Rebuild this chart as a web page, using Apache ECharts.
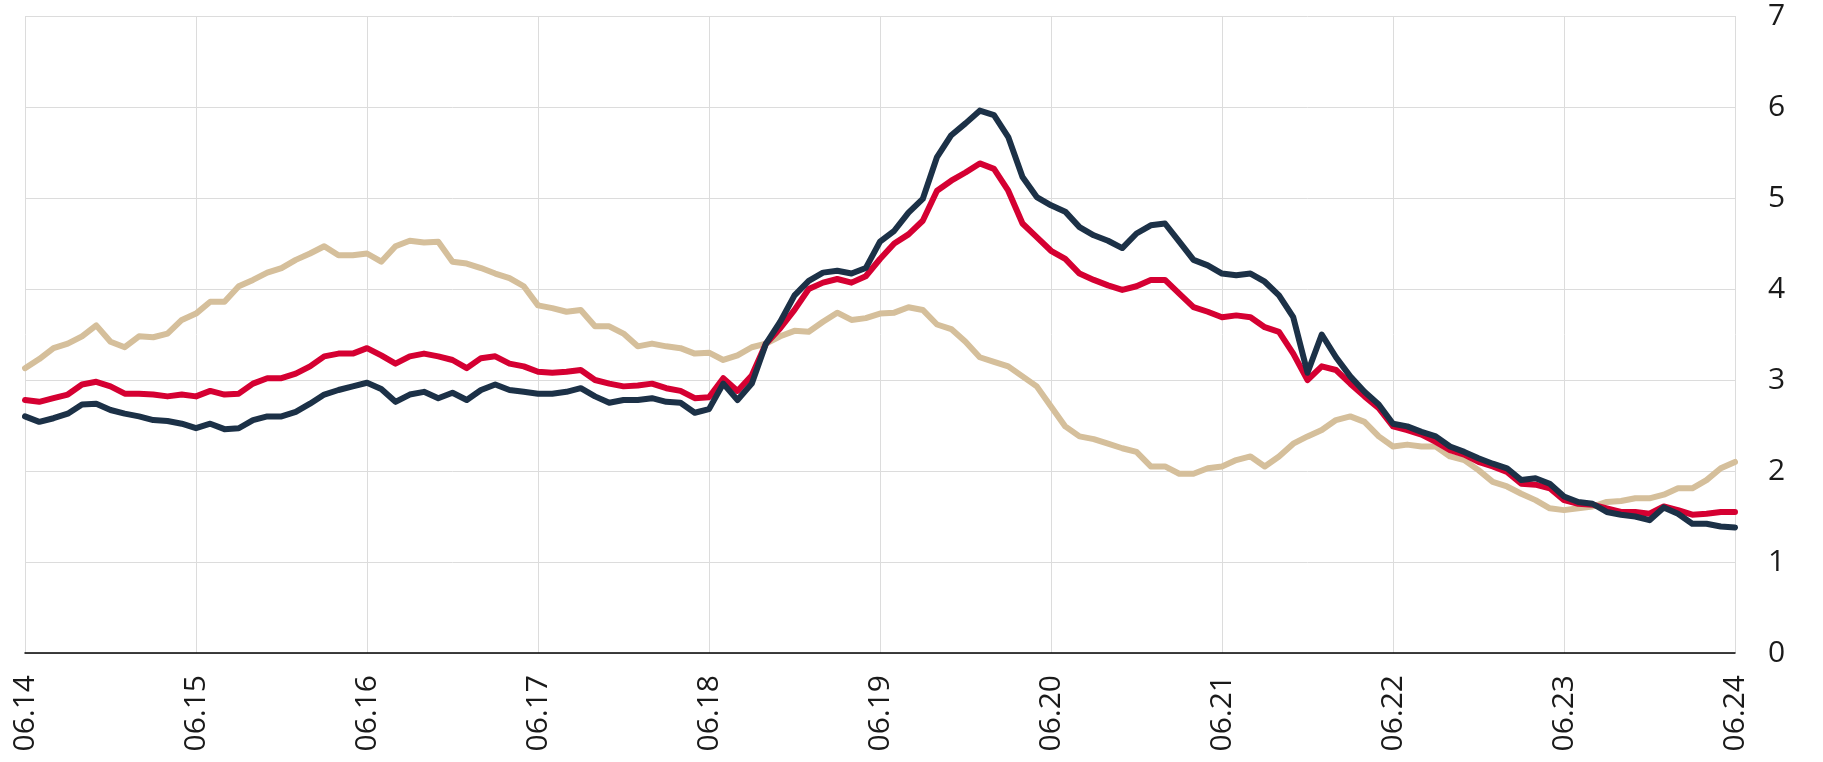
<!DOCTYPE html>
<html>
<head>
<meta charset="utf-8">
<script src="https://cdn.jsdelivr.net/npm/echarts@6/dist/echarts.min.js"></script>
<style>
  html, body { margin: 0; padding: 0; background: #fff; }
  #chart { width: 1823px; height: 762px; }
</style>
</head>
<body>
<div id="chart"></div>
<script>
// day labels on the x axis (one tick per day)
var dayLabels = ['06.14', '06.15', '06.16', '06.17', '06.18', '06.19', '06.20', '06.21', '06.22', '06.23', '06.24'];
// samples every 2 hours (12 per day)
var stepPerDay = 12;

var navyValues = [
  2.60, 2.54, 2.58, 2.63, 2.73, 2.74, 2.67, 2.63, 2.60, 2.56, 2.55, 2.52,
  2.47, 2.52, 2.46, 2.47, 2.56, 2.60, 2.60, 2.65, 2.74, 2.84, 2.89, 2.93,
  2.97, 2.90, 2.76, 2.84, 2.87, 2.80, 2.86, 2.78, 2.89, 2.95, 2.89, 2.87,
  2.85, 2.85, 2.87, 2.91, 2.82, 2.75, 2.78, 2.78, 2.80, 2.76, 2.75, 2.64,
  2.68, 2.96, 2.78, 2.96, 3.40, 3.64, 3.93, 4.09, 4.18, 4.20, 4.17, 4.23,
  4.52, 4.64, 4.84, 4.99, 5.45, 5.69, 5.82, 5.96, 5.91, 5.67, 5.23, 5.01,
  4.92, 4.85, 4.68, 4.59, 4.53, 4.45, 4.61, 4.70, 4.72, 4.52, 4.32, 4.26,
  4.17, 4.15, 4.17, 4.08, 3.93, 3.69, 3.08, 3.50, 3.25, 3.04, 2.87, 2.73,
  2.52, 2.49, 2.43, 2.38, 2.27, 2.21, 2.14, 2.08, 2.03, 1.90, 1.92, 1.86,
  1.72, 1.66, 1.64, 1.55, 1.52, 1.50, 1.46, 1.60, 1.53, 1.42, 1.42, 1.39,
  1.38
];

var redValues = [
  2.78, 2.76, 2.80, 2.84, 2.95, 2.98, 2.93, 2.85, 2.85, 2.84, 2.82, 2.84,
  2.82, 2.88, 2.84, 2.85, 2.96, 3.02, 3.02, 3.07, 3.15, 3.26, 3.29, 3.29,
  3.35, 3.27, 3.18, 3.26, 3.29, 3.26, 3.22, 3.13, 3.24, 3.26, 3.18, 3.15,
  3.09, 3.08, 3.09, 3.11, 3.00, 2.96, 2.93, 2.94, 2.96, 2.91, 2.88, 2.80,
  2.81, 3.02, 2.88, 3.05, 3.40, 3.57, 3.77, 4.00, 4.07, 4.11, 4.07, 4.14,
  4.33, 4.50, 4.60, 4.75, 5.08, 5.19, 5.28, 5.38, 5.32, 5.08, 4.72, 4.57,
  4.42, 4.33, 4.17, 4.10, 4.04, 3.99, 4.03, 4.10, 4.10, 3.95, 3.80, 3.75,
  3.69, 3.71, 3.69, 3.58, 3.53, 3.29, 3.00, 3.15, 3.11, 2.96, 2.82, 2.69,
  2.49, 2.45, 2.40, 2.32, 2.23, 2.18, 2.10, 2.05, 1.99, 1.86, 1.85, 1.81,
  1.68, 1.64, 1.63, 1.59, 1.55, 1.55, 1.53, 1.61, 1.57, 1.52, 1.53, 1.55,
  1.55
];

var tanValues = [
  3.13, 3.23, 3.35, 3.40, 3.48, 3.60, 3.42, 3.36, 3.48, 3.47, 3.51, 3.66,
  3.73, 3.86, 3.86, 4.03, 4.10, 4.18, 4.23, 4.32, 4.39, 4.47, 4.37, 4.37,
  4.39, 4.30, 4.47, 4.53, 4.51, 4.52, 4.30, 4.28, 4.23, 4.17, 4.12, 4.03,
  3.82, 3.79, 3.75, 3.77, 3.59, 3.59, 3.51, 3.37, 3.40, 3.37, 3.35, 3.29,
  3.30, 3.22, 3.27, 3.36, 3.40, 3.48, 3.54, 3.53, 3.64, 3.74, 3.66, 3.68,
  3.73, 3.74, 3.80, 3.77, 3.61, 3.56, 3.42, 3.25, 3.20, 3.15, 3.04, 2.93,
  2.71, 2.49, 2.38, 2.35, 2.30, 2.25, 2.21, 2.05, 2.05, 1.97, 1.97, 2.03,
  2.05, 2.12, 2.16, 2.05, 2.16, 2.30, 2.38, 2.45, 2.56, 2.60, 2.54, 2.38,
  2.27, 2.29, 2.27, 2.27, 2.16, 2.12, 2.01, 1.88, 1.83, 1.75, 1.68, 1.59,
  1.57, 1.59, 1.61, 1.66, 1.67, 1.70, 1.70, 1.74, 1.81, 1.81, 1.90, 2.03,
  2.10
];

function toPairs(values) {
  return values.map(function (v, i) { return [i / stepPerDay, v]; });
}

var chart = echarts.init(document.getElementById('chart'));
var gridColor = '#dcdcdc';
var textColor = '#1a1a1a';
var font = '"Open Sans", "Noto Sans", sans-serif';

var option = {
  animation: false,
  backgroundColor: '#fff',
  grid: { left: 25, right: 88, top: 16, bottom: 109 },
  xAxis: {
    type: 'value',
    min: 0,
    max: 10,
    interval: 1,
    axisLine: { show: true, lineStyle: { color: '#000', width: 1.5 } },
    axisTick: { show: false },
    splitLine: { show: true, lineStyle: { color: gridColor, width: 1 } },
    axisLabel: {
      rotate: 90,
      margin: 22,
      fontSize: 30,
      fontFamily: font,
      color: textColor,
      formatter: function (v) { return dayLabels[Math.round(v)]; }
    }
  },
  yAxis: {
    type: 'value',
    position: 'right',
    min: 0,
    max: 7,
    interval: 1,
    axisLine: { show: false },
    axisTick: { show: false },
    splitLine: { show: true, lineStyle: { color: gridColor, width: 1 } },
    axisLabel: {
      margin: 33,
      fontSize: 30,
      fontFamily: font,
      color: textColor
    }
  },
  series: [
    {
      name: 'tan',
      type: 'line',
      data: toPairs(tanValues),
      showSymbol: false,
      lineStyle: { color: '#d5bf9b', width: 6, cap: 'round', join: 'round' }
    },
    {
      name: 'red',
      type: 'line',
      data: toPairs(redValues),
      showSymbol: false,
      lineStyle: { color: '#d50032', width: 6, cap: 'round', join: 'round' }
    },
    {
      name: 'navy',
      type: 'line',
      data: toPairs(navyValues),
      showSymbol: false,
      lineStyle: { color: '#1c3147', width: 6, cap: 'round', join: 'round' }
    }
  ]
};

chart.setOption(option);
</script>
</body>
</html>
